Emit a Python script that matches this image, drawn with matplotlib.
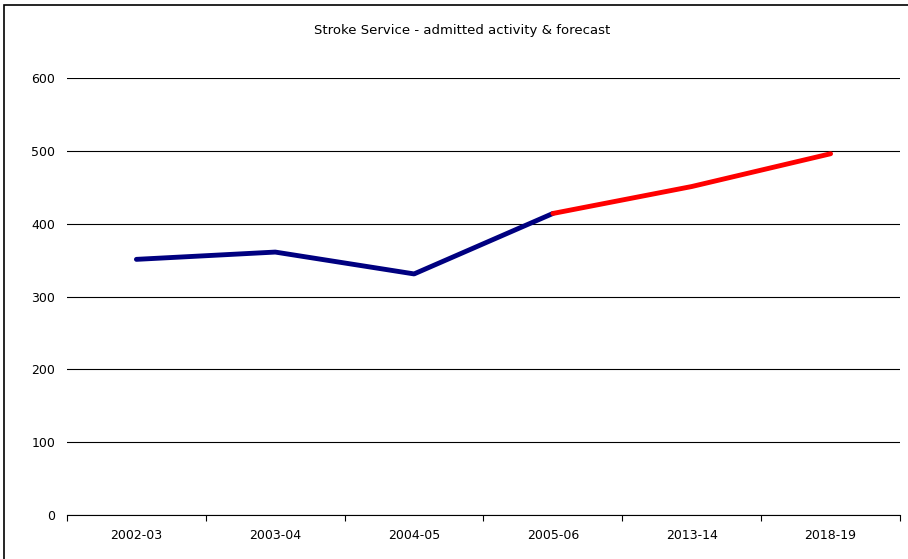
import matplotlib.pyplot as plt
import numpy as np
from matplotlib.patches import Rectangle

plt.rcParams['font.family'] = ['DejaVu Sans']

years = ["2002-03", "2003-04", "2004-05", "2005-06", "2013-14", "2018-19"]
actual = [351, 361, 331, 414]
forecast = [414, 451, 496]

W, H = 908, 559
fig = plt.figure(figsize=(W / 100, H / 100), dpi=100)

# outer chart frame (runs off the right and bottom edges like the original)
fig.add_artist(Rectangle((4 / W, -0.1), 1.2, 1 - 5 / H + 0.1, transform=fig.transFigure,
                         fill=False, edgecolor="black", linewidth=1.2))

ax = fig.add_axes([67 / W, 1 - 515 / H, (900 - 67) / W, (515 - 78) / H])

x = np.arange(len(years))
ax.plot(x[:4], actual, color="#000080", linewidth=3.5, solid_capstyle="round", zorder=3)
ax.plot(x[3:], forecast, color="#ff0000", linewidth=3.5, solid_capstyle="round", zorder=3)

ax.set_xlim(-0.5, len(years) - 0.5)
ax.set_ylim(0, 600)
ax.set_yticks(range(0, 601, 100))
ax.yaxis.grid(True, color="black", linewidth=0.8)
ax.set_axisbelow(True)

ax.set_xticks(x)
ax.set_xticklabels(years, fontsize=9)
ax.set_xticks(np.arange(-0.5, len(years), 1), minor=True)
ax.tick_params(axis="x", which="major", length=0, pad=10)
ax.tick_params(axis="x", which="minor", length=4, width=0.8, direction="out")
ax.tick_params(axis="y", length=0, pad=8.5, labelsize=9)

for s in ["left", "right", "top"]:
    ax.spines[s].set_visible(False)
ax.spines["bottom"].set_linewidth(0.8)

fig.text(462 / W, 1 - 30.5 / H, "Stroke Service - admitted activity & forecast",
         ha="center", va="center", fontsize=9.5)

fig.savefig("out.png", dpi=100)
